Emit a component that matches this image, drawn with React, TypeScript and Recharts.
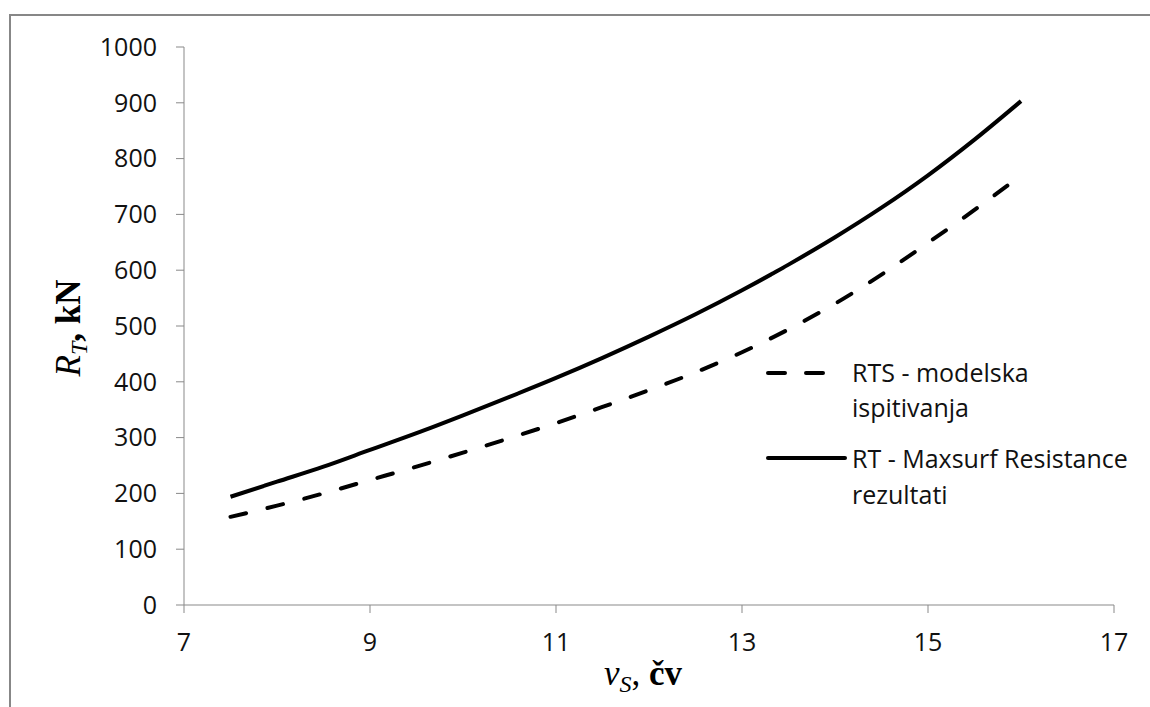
import { LineChart, Line, XAxis, YAxis } from "recharts";

const speeds = [7.5, 8, 8.5, 9, 9.5, 10, 10.5, 11, 11.5, 12, 12.5, 13, 13.5, 14, 14.5, 15, 15.5, 16];
const rtsModel = [158, 178, 200, 224, 248, 273, 299, 326, 355, 385, 417, 453, 494, 540, 592, 649, 708, 770];
const rtMaxsurf = [194, 221, 248, 278, 308, 340, 373, 407, 443, 481, 521, 564, 610, 659, 712, 770, 834, 903];

const xTicks = [7, 9, 11, 13, 15, 17];
const yTicks = [0, 100, 200, 300, 400, 500, 600, 700, 800, 900, 1000];

const legendLabels = {
  rts: ["RTS - modelska", "ispitivanja"],
  rt: ["RT - Maxsurf Resistance", "rezultati"],
};

const data = speeds.map((v, i) => ({ v, rts: rtsModel[i], rt: rtMaxsurf[i] }));

const axisColor = "#898989";
const tickFont = { fontFamily: "Open Sans", fontSize: 25, fill: "#111" };
const serif = "'Liberation Serif', 'Times New Roman', serif";

function YLabel({ viewBox }: any) {
  const cx = viewBox.x + 69;
  const cy = viewBox.y + viewBox.height / 2 + 2;
  return (
    <text
      x={cx}
      y={cy}
      transform={`rotate(-90, ${cx}, ${cy})`}
      textAnchor="middle"
      fontFamily={serif}
      fontSize={35}
      fill="#000"
    >
      <tspan fontStyle="italic">R</tspan>
      <tspan fontStyle="italic" fontSize={24} dy={7}>T</tspan>
      <tspan fontWeight="bold" dy={-7}>, kN</tspan>
    </text>
  );
}

function XLabel({ viewBox }: any) {
  const cx = viewBox.x + viewBox.width / 2 - 6;
  const y = viewBox.y + 80;
  return (
    <text x={cx} y={y} textAnchor="middle" fontFamily={serif} fontSize={35} fill="#000">
      <tspan fontStyle="italic">v</tspan>
      <tspan fontStyle="italic" fontSize={24} dy={7}>S</tspan>
      <tspan dy={-7}>, </tspan>
      <tspan fontWeight="bold">čv</tspan>
    </text>
  );
}

// legend drawn on top of the chart, Excel style
function ChartLegend() {
  const text = { fontFamily: "Open Sans", fontSize: 25, fill: "#111" };
  return (
    <svg width={390} height={170} style={{ position: "absolute", left: 749, top: 339 }}>
      <line x1={8} x2={65} y1={18} y2={18} stroke="#000" strokeWidth={4} strokeDasharray="17 21" strokeLinecap="round" />
      <text x={92} y={27} {...text}>{legendLabels.rts[0]}</text>
      <text x={92} y={62} {...text}>{legendLabels.rts[1]}</text>
      <line x1={8} x2={85} y1={103} y2={103} stroke="#000" strokeWidth={4} strokeLinecap="round" />
      <text x={92} y={113} {...text}>{legendLabels.rt[0]}</text>
      <text x={92} y={149} {...text}>{legendLabels.rt[1]}</text>
    </svg>
  );
}

export default function App() {
  return (
    <div
      style={{
        position: "fixed",
        left: 9,
        top: 14,
        width: 1160,
        height: 710,
        border: "2px solid #878787",
        background: "#fff",
      }}
    >
      <LineChart width={1139} height={691} data={data} margin={{ top: 31, right: 36, bottom: 0, left: 0 }}>
        <XAxis
          dataKey="v"
          type="number"
          domain={[7, 17]}
          ticks={xTicks}
          height={102}
          stroke={axisColor}
          tickSize={8}
          tickMargin={20}
          tick={tickFont}
          label={<XLabel />}
        />
        <YAxis
          type="number"
          domain={[0, 1000]}
          ticks={yTicks}
          width={173}
          stroke={axisColor}
          tickSize={8}
          tickMargin={19}
          tick={tickFont}
          label={<YLabel />}
        />
        <Line
          dataKey="rts"
          type="monotone"
          stroke="#000"
          strokeWidth={4}
          strokeDasharray="16 22"
          strokeLinecap="round"
          dot={false}
          isAnimationActive={false}
        />
        <Line
          dataKey="rt"
          type="monotone"
          stroke="#000"
          strokeWidth={4}
          dot={false}
          isAnimationActive={false}
        />
      </LineChart>
      <ChartLegend />
    </div>
  );
}
